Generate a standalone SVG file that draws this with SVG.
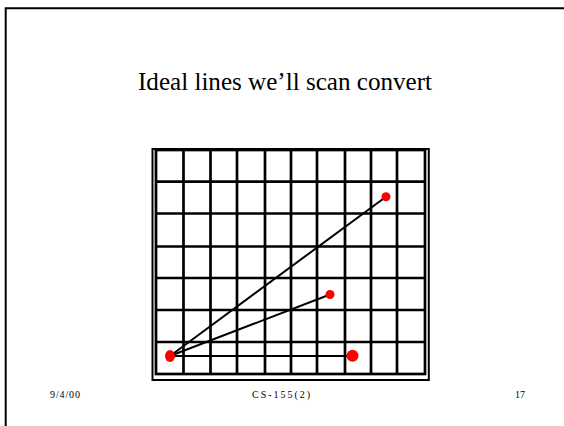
<svg xmlns="http://www.w3.org/2000/svg" width="564" height="426" viewBox="0 0 564 426">
<style>
.t{font-family:"Liberation Serif","Times New Roman",serif;fill:#000}
.g{stroke:#000;stroke-width:2.7;fill:none}
.f{stroke:#000;stroke-width:2;fill:none}
.c{stroke:#000;stroke-width:2;fill:none}
.d{fill:#ff0000}
</style>
<rect width="564" height="426" fill="#fff"/>
<g id="page-border">
<polyline class="f" points="5.7,426 5.7,8.3 564,8.3"/>
</g>
<g id="title"><text class="t" x="138" y="90" font-size="26" textLength="294" lengthAdjust="spacingAndGlyphs">Ideal lines we’ll scan convert</text></g>
<g id="grid">
<rect class="f" x="152.5" y="149" width="276.3" height="231"/>
<rect class="g" x="156" y="150" width="269" height="224"/>
<path class="g" d="M183.5,150V374M210.5,150V374M237,150V374M265,150V374M291,150V374M317,150V374M345,150V374M371,150V374M397,150V374M156,181.7H425M156,213.5H425M156,246.5H425M156,278H425M156,310H425M156,342H425"/>
</g>
<g id="connectors">
<line class="c" x1="170" y1="356" x2="386" y2="196.7"/>
<line class="c" x1="170" y1="356" x2="330" y2="294.5"/>
<line class="c" x1="170" y1="356" x2="352.5" y2="356"/>
</g>
<g id="node-origin"><ellipse class="d" cx="170" cy="356" rx="5" ry="6"/></g>
<g id="node-p1"><circle class="d" cx="386" cy="196.7" r="4.5"/></g>
<g id="node-p2"><circle class="d" cx="330" cy="294.5" r="4.5"/></g>
<g id="node-p3"><circle class="d" cx="352.5" cy="355.7" r="6"/></g>
<g id="footer">
<text class="t" x="50" y="398" font-size="10" textLength="30" lengthAdjust="spacing">9/4/00</text>
<text class="t" x="252" y="398" font-size="10" textLength="58" lengthAdjust="spacing">CS-155(2)</text>
<text class="t" x="515" y="398" font-size="10" textLength="10" lengthAdjust="spacing">17</text>
</g>
</svg>
